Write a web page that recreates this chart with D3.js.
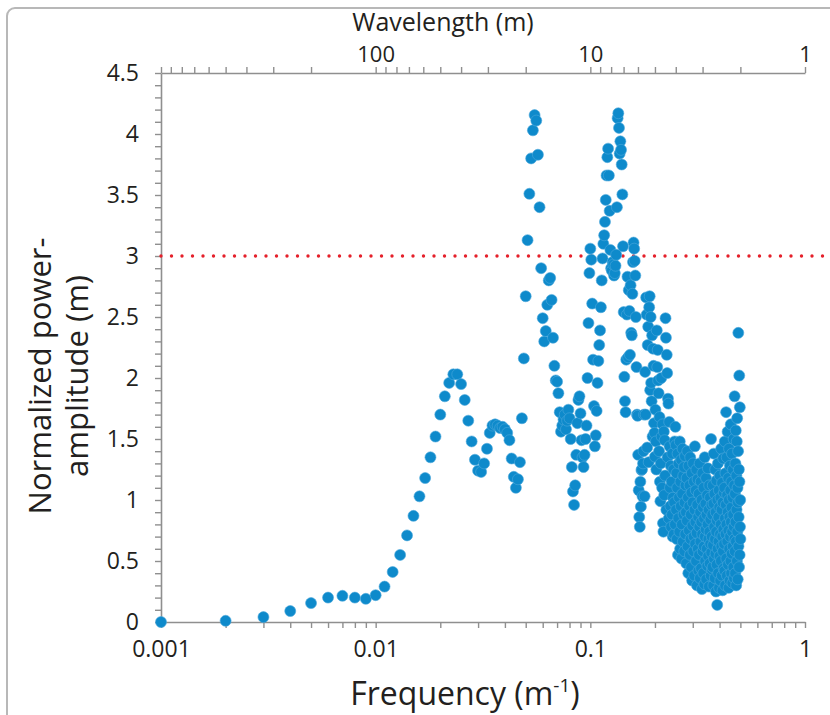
<!DOCTYPE html>
<html>
<head>
<meta charset="utf-8">
<script src="https://cdn.jsdelivr.net/npm/d3@7"></script>
<style>
  body { margin: 0; background: #fff; }
  svg { display: block; font-family: "Open Sans", sans-serif; }
</style>
</head>
<body>
<svg id="chart"></svg>
<script>
// spectrum is sampled every 0.001 1/m, first sample at 0.001
const freqStep = 0.001;

// amplitudes, sample by sample
const ampRise = [
  0.00, 0.01, 0.04, 0.09, 0.155, 0.20, 0.215, 0.20, 0.19, 0.22,
  0.29, 0.41, 0.55, 0.71, 0.87, 1.03, 1.18, 1.35, 1.52, 1.70,
  1.85, 1.96, 2.03, 2.03, 1.95, 1.82, 1.65, 1.48, 1.33, 1.24,
  1.23, 1.30, 1.42, 1.55, 1.61, 1.62, 1.61, 1.59, 1.60, 1.58,
  1.55, 1.49, 1.34, 1.19, 1.10, 1.17, 1.31, 1.67, 2.16, 2.67
];
const ampPeakA = [
  3.13, 3.51, 3.80, 4.03, 4.155, 4.11, 3.83, 3.40, 2.90, 2.49,
  2.30, 2.385, 2.60, 2.80, 2.82, 2.64, 2.33, 2.10, 1.98, 1.97,
  1.875, 1.72, 1.56, 1.61, 1.66, 1.70, 1.58, 1.65, 1.74, 1.67,
  1.50, 1.27, 1.07, 0.96, 1.12, 1.37, 1.63, 1.82, 1.85, 1.71,
  1.49, 1.35, 1.27, 1.37, 1.50, 1.61, 2.00, 2.45, 2.86
];
const ampPeakB = [
  3.06, 2.97, 2.61, 2.15, 1.77, 1.44, 1.53, 1.73, 1.96, 2.14,
  2.27, 2.39, 2.58, 2.80, 2.98, 3.10, 3.17, 3.28, 3.46, 3.66,
  3.81, 3.88, 3.66, 3.37, 3.05, 2.90, 2.88, 2.95, 2.93, 2.84,
  2.86, 2.92, 3.01, 3.40, 4.13, 4.17, 4.05, 3.84, 3.94, 3.87,
  3.75, 3.505, 3.08, 2.54, 2.01, 1.81, 1.72, 2.15, 2.52, 2.83,
  2.17, 2.72, 2.55, 2.19, 2.76, 2.37, 2.35, 2.69, 2.95, 3.11,
  3.06, 2.96, 2.84, 2.50, 2.09, 1.70, 1.69, 1.37, 1.08, 0.86,
  0.78, 1.15, 0.945, 1.245, 1.25, 1.03, 1.30, 1.40, 1.70, 1.03
];
const ampMid = [
  2.05, 1.70, 2.66, 2.52, 1.43, 2.27, 2.42, 1.31, 2.58, 2.67,
  1.90, 2.50, 1.96, 1.81, 2.35, 1.52, 2.24, 2.10, 1.63, 1.55,
  1.355, 1.74, 1.48, 1.25, 2.39, 2.09, 2.23, 1.98, 1.875, 1.40,
  1.68, 1.15, 0.99, 1.30, 2.00, 1.52, 1.10, 1.62, 0.81, 0.74,
  1.56, 1.04, 1.49, 1.20, 2.49, 2.33, 0.92, 2.19, 2.04, 1.35,
  1.83, 1.79, 0.85, 1.64, 1.44, 1.10, 0.95, 1.28, 0.78, 1.15,
  0.88, 1.38, 0.70, 1.02, 1.25, 0.72, 0.98, 1.48, 0.80, 1.60
];
const ampCluster = [
  1.45, 0.92, 1.22, 0.68, 1.10, 1.38, 0.55, 0.85, 1.30, 1.02,
  0.74, 1.48, 0.60, 1.15, 0.95, 1.33, 0.52, 0.80, 1.05, 1.42,
  0.66, 1.20, 0.88, 1.27, 0.58, 0.98, 1.36, 0.72, 1.12, 0.90,
  0.48, 1.18, 0.83, 1.40, 0.62, 1.02, 0.40, 1.28, 0.75, 0.95,
  1.12, 0.55, 1.35, 0.68, 0.88, 0.45, 1.06, 1.22, 0.34, 0.79,
  0.98, 1.30, 0.58, 0.70, 1.15, 0.38, 0.92, 1.44, 0.64, 0.82,
  1.08, 0.50, 1.25, 0.73, 0.30, 0.96, 1.17, 0.60, 0.86, 0.42,
  1.05, 0.55, 0.78, 1.30, 0.36, 0.90, 0.66, 1.15, 0.44, 0.82,
  1.00, 0.27, 0.72, 1.22, 0.58, 0.94, 0.40, 1.10, 0.62, 0.85,
  0.31, 1.35, 0.70, 0.50, 0.97, 0.76, 1.18, 0.35, 0.88, 0.60,
  1.04, 0.46, 0.80, 1.26, 0.54, 0.68, 0.92, 0.29, 1.12, 0.74,
  0.48, 1.02, 0.64, 0.84, 0.38, 1.50, 0.57, 0.96, 0.70, 0.43,
  0.88, 0.45, 1.12, 0.63, 0.30, 0.97, 1.38, 0.52, 0.78, 1.05,
  0.36, 0.68, 1.25, 0.56, 0.90, 0.25, 0.74, 1.16, 0.47, 0.83,
  0.14, 1.00, 0.60, 1.30, 0.40, 0.86, 0.66, 1.08, 0.28, 0.94,
  0.54, 1.20, 0.72, 0.34, 1.02, 0.80, 0.50, 1.42, 0.62, 0.92,
  0.38, 1.14, 0.70, 0.26, 0.98, 0.58, 1.34, 0.76, 0.44, 1.06,
  0.64, 1.10, 0.42, 1.48, 0.85, 0.30, 1.22, 0.72, 0.96, 1.72,
  0.52, 0.80, 1.35, 0.38, 1.04, 0.66, 1.56, 0.90, 0.47, 1.18,
  0.75, 0.28, 1.00, 1.42, 0.60, 0.86, 0.34, 1.28, 0.70, 1.08,
  0.50, 1.62, 0.82, 0.40, 1.15, 0.94, 0.56, 1.38, 0.74, 0.32,
  1.02, 0.62, 1.25, 0.88, 0.45, 1.50, 0.78, 0.36, 1.12, 0.68,
  1.85, 0.58, 1.05, 0.40, 1.30, 0.82, 1.57, 0.66, 0.30, 1.20,
  0.92, 1.48, 0.50, 1.67, 0.74, 1.10, 0.35, 0.98, 1.40, 2.37,
  0.62, 0.86, 1.25, 0.45, 2.02, 1.15, 0.55, 1.76, 0.78, 1.00,
  0.68
];

const thresholdLevel = 3;
const freqLabels = ['0.001', '0.01', '0.1', '1'];
const waveLabels = ['100', '10', '1'];
const ampLabels = ['0', '0.5', '1', '1.5', '2', '2.5', '3', '3.5', '4', '4.5'];

class Spectrum {

  constructor(_config, _data) {
    this.config = {
      parentElement: _config.parentElement,
      containerWidth: _config.containerWidth || 830,
      containerHeight: _config.containerHeight || 715,
      margin: { top: 73, right: 25, bottom: 93, left: 161 }
    };
    this.data = _data;
    this.initVis();
  }

  initVis() {
    let vis = this;

    vis.width = vis.config.containerWidth - vis.config.margin.left - vis.config.margin.right;
    vis.height = vis.config.containerHeight - vis.config.margin.top - vis.config.margin.bottom;

    vis.svg = d3.select(vis.config.parentElement)
      .attr('width', vis.config.containerWidth)
      .attr('height', vis.config.containerHeight);

    // grey frame of the original figure panel
    vis.svg.append('rect')
      .attr('x', 7).attr('y', 8)
      .attr('width', 900).attr('height', 800)
      .attr('rx', 8)
      .attr('fill', 'none')
      .attr('stroke', '#b8b8b8')
      .attr('stroke-width', 2);

    vis.chart = vis.svg.append('g')
      .attr('transform', `translate(${vis.config.margin.left},${vis.config.margin.top})`);

    vis.xScale = d3.scaleLog().domain([0.001, 1]).range([0, vis.width]);
    vis.waveScale = d3.scaleLog().domain([1000, 1]).range([0, vis.width]);
    vis.yScale = d3.scaleLinear().domain([0, 4.5]).range([vis.height, 0]);

    const pick = (labels) => d => labels.find(l => Math.abs(+l - d) < 1e-9) || '';

    vis.xAxis = d3.axisBottom(vis.xScale)
      .tickValues(vis.xScale.ticks())
      .tickSize(6)
      .tickSizeOuter(0)
      .tickPadding(13)
      .tickFormat(pick(freqLabels));

    vis.waveAxis = d3.axisTop(vis.waveScale)
      .tickValues(vis.waveScale.ticks())
      .tickSize(6)
      .tickSizeOuter(0)
      .tickPadding(5)
      .tickFormat(pick(waveLabels));

    vis.yAxis = d3.axisLeft(vis.yScale)
      .tickValues(d3.range(0, 46).map(i => i / 10))
      .tickSize(6)
      .tickSizeOuter(0)
      .tickPadding(16)
      .tickFormat(pick(ampLabels));

    vis.xValue = d => d.freq;
    vis.yValue = d => d.amp;

    vis.renderVis();
  }

  renderVis() {
    let vis = this;

    const styleAxis = (g, size) => {
      g.select('.domain').attr('stroke', '#8f8f8f').attr('stroke-width', 1.6);
      g.selectAll('.tick line').attr('stroke', '#8f8f8f').attr('stroke-width', 1.4);
      g.selectAll('.tick text')
        .style('font-size', size + 'px')
        .style('font-family', '"Open Sans", sans-serif')
        .attr('fill', '#231f20');
    };

    vis.chart.append('g')
      .attr('class', 'axis x-axis')
      .attr('transform', `translate(0,${vis.height})`)
      .call(vis.xAxis)
      .call(g => styleAxis(g, 23));

    vis.chart.append('g')
      .attr('class', 'axis wave-axis')
      .call(vis.waveAxis)
      .call(g => styleAxis(g, 22));

    vis.chart.append('g')
      .attr('class', 'axis y-axis')
      .call(vis.yAxis)
      .call(g => styleAxis(g, 23));

    // dotted threshold line, runs off the right edge like the source
    vis.chart.append('line')
      .attr('x1', 0)
      .attr('x2', vis.width + vis.config.margin.right + 10)
      .attr('y1', vis.yScale(thresholdLevel))
      .attr('y2', vis.yScale(thresholdLevel))
      .attr('stroke', '#e5202a')
      .attr('stroke-width', 3.4)
      .attr('stroke-linecap', 'round')
      .attr('stroke-dasharray', '0 10.5');

    vis.chart.append('g')
      .attr('class', 'marks')
      .selectAll('circle')
      .data(vis.data)
      .join('circle')
        .attr('cx', d => vis.xScale(vis.xValue(d)))
        .attr('cy', d => vis.yScale(vis.yValue(d)))
        .attr('r', 5.5)
        .attr('fill', '#0e8acb')
        .attr('stroke', '#4ba7dc')
        .attr('stroke-width', 0.6);

    // titles
    vis.svg.append('text')
      .attr('x', 443)
      .attr('y', 31)
      .attr('text-anchor', 'middle')
      .style('font-size', '25px')
      .attr('fill', '#231f20')
      .text('Wavelength (m)');

    const xt = vis.svg.append('text')
      .attr('x', 465)
      .attr('y', 705)
      .attr('text-anchor', 'middle')
      .style('font-size', '32px')
      .attr('fill', '#231f20');
    xt.append('tspan').text('Frequency (m');
    xt.append('tspan').attr('dy', -13).style('font-size', '19px').text('-1');
    xt.append('tspan').attr('dy', 13).text(')');

    const yt = vis.svg.append('text')
      .attr('transform', 'translate(0,376) rotate(-90)')
      .attr('text-anchor', 'middle')
      .style('font-size', '31px')
      .attr('fill', '#231f20');
    yt.append('tspan').attr('x', 0).attr('y', 51).text('Normalized power-');
    yt.append('tspan').attr('x', 0).attr('y', 88).text('amplitude (m)');
  }
}

const amplitudes = [].concat(ampRise, ampPeakA, ampPeakB, ampMid, ampCluster);
const spectrum = amplitudes.map((amp, i) => ({ freq: (i + 1) * freqStep, amp: amp }));

new Spectrum({ parentElement: '#chart' }, spectrum);
</script>
</body>
</html>
